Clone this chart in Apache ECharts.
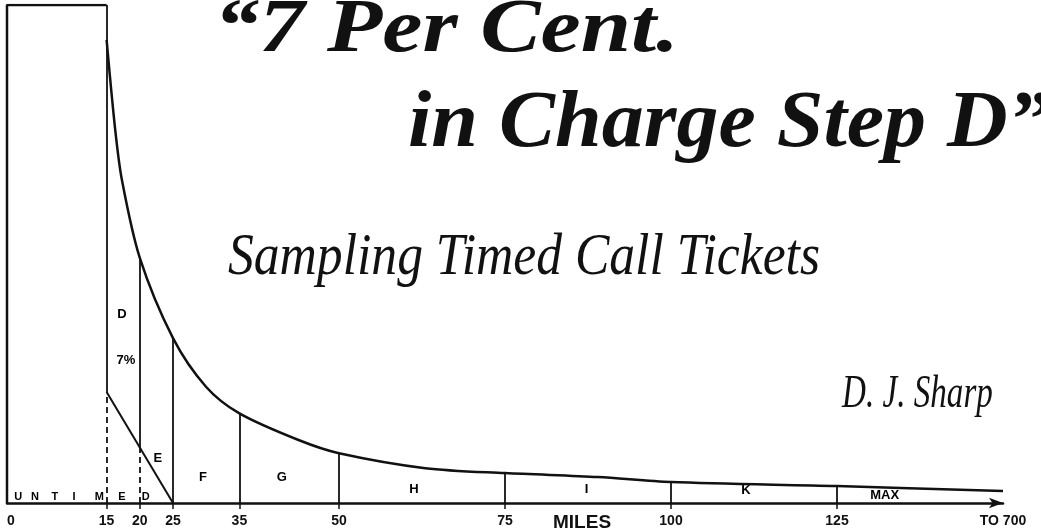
<!DOCTYPE html>
<html>
<head>
<meta charset="utf-8">
<script src="https://cdn.jsdelivr.net/npm/echarts@6/dist/echarts.min.js"></script>
<style>
  html, body { margin: 0; padding: 0; background: #fff; }
  #chart { width: 1041px; height: 531px; }
</style>
</head>
<body>
<div id="chart"></div>
<script>
// Decay curve of timed calls by mileage (height relative to the untimed bar = 100)
const curveMiles  = [15, 16.3, 17.3, 20, 25, 30, 35, 44, 50, 63, 75, 89, 100, 125, 700];
const curveHeight = [93, 74.9, 64.9, 49.2, 33.1, 23.3, 18.0, 12.6, 10, 7, 6, 5.2, 4.2, 3.4, 2.4];

// Untimed block 0-15 miles
const untimedMiles = [0, 0, 15];
const untimedHeight = [0, 100, 100];

// Charge step boundaries; dividers run from the curve down, dashed below `dashedTo`
const stepMiles = [15, 20, 25, 35, 50, 75, 100, 125];
const stepTop = [100, 49.2, 33.1, 18.0, 10, 6, 4.2, 3.4];
const dashedTo = [22.3, 11.1, 0, 0, 0, 0, 0, 0];

// The 7 per cent sampling line in step D
const sampleMiles = [15, 25];
const sampleHeight = [22.3, 0];

// Axis labels
const tickMiles  = [0, 15, 20, 25, 35, 50, 75, 100, 125, 700];
const tickLabels = ['0', '15', '20', '25', '35', '50', '75', '100', '125', 'TO 700'];

// Letters inside the chart
const stepLetters = ['D', '7%', 'E', 'F', 'G', 'H', 'I', 'K', 'MAX'];
const stepLetterMiles = [17.3, 17.9, 22.7, 29.5, 41.4, 61.3, 87.3, 111.3, 290];
const stepLetterHeight = [37.8, 28.7, 9.0, 5.2, 5.2, 2.8, 2.8, 2.6, 1.6];

const untimedLetters = ['U', 'N', 'T', 'I', 'M', 'E', 'D'];
const untimedLetterMiles = [1.7, 4.2, 7.2, 10.1, 13.9, 17.3, 20.9];
const untimedLetterHeight = 1.3;

// axis is linear to 125 miles, the 125-700 tail is squeezed into the last stretch
const LINEAR_TO = 125, TAIL_SPAN = 25, TAIL_END = 700;
function milePos(m) {
  if (m <= LINEAR_TO) return m;
  return LINEAR_TO + (m - LINEAR_TO) * TAIL_SPAN / (TAIL_END - LINEAR_TO);
}

const INK = '#111';
const sans = '"Liberation Sans", Arial, sans-serif';
const serif = '"Liberation Serif", "Times New Roman", serif';

const chart = echarts.init(document.getElementById('chart'), null, { renderer: 'canvas' });

const dividerLines = [];
stepMiles.forEach((m, i) => {
  const x = milePos(m);
  dividerLines.push([{ coord: [x, dashedTo[i]] }, { coord: [x, stepTop[i]] }]);
  if (dashedTo[i] > 0) {
    dividerLines.push([
      { coord: [x, 0], lineStyle: { type: [6, 4], width: 1.8 } },
      { coord: [x, dashedTo[i]] }
    ]);
  }
});

const tickPos = tickMiles.map(milePos);
const labelFor = {};
tickMiles.forEach((m, i) => { labelFor[milePos(m)] = tickLabels[i]; });

const letterLabel = (size) => ({
  show: true,
  position: 'inside',
  formatter: '{b}',
  color: '#000',
  opacity: 1,
  textBorderWidth: 0,
  fontFamily: sans,
  fontWeight: 'bold',
  fontSize: size
});

chart.setOption({
  backgroundColor: '#fff',
  animation: false,
  grid: { left: 7, right: 38, top: 5, bottom: 28 },
  xAxis: {
    type: 'value',
    min: 0,
    max: milePos(TAIL_END),
    axisLine: {
      show: true,
      symbol: ['none', 'arrow'],
      symbolSize: [8, 14],
      lineStyle: { color: INK, width: 2.5 }
    },
    axisTick: {
      show: true,
      customValues: stepMiles.map(milePos),
      length: 6,
      lineStyle: { color: INK, width: 1.5 }
    },
    axisLabel: {
      customValues: tickPos,
      formatter: (v) => labelFor[v] || '',
      color: INK,
      fontFamily: sans,
      fontWeight: 'bold',
      fontSize: 14,
      margin: 11,
      alignMinLabel: 'left'
    },
    splitLine: { show: false }
  },
  yAxis: {
    type: 'value',
    min: 0,
    max: 100,
    show: false
  },
  graphic: [
    { type: 'text', x: 214, y: -7, scaleX: 1.19,
      style: { text: '\u201C7 Per Cent.', font: 'italic bold 76px ' + serif, fill: INK } },
    { type: 'text', x: 408, y: 85, scaleX: 1.05,
      style: { text: 'in Charge Step D\u201D', font: 'italic bold 80px ' + serif, fill: INK } },
    { type: 'text', x: 228, y: 228, scaleX: 0.86,
      style: { text: 'Sampling Timed Call Tickets', font: 'italic 60px ' + serif, fill: INK } },
    { type: 'text', x: 842, y: 372, scaleX: 0.72,
      style: { text: 'D. J. Sharp', font: 'italic 46px ' + serif, fill: INK } },
    { type: 'text', x: 553, y: 513,
      style: { text: 'MILES', font: 'bold 19px ' + sans, fill: INK } }
  ],
  series: [
    {
      name: 'calls',
      type: 'line',
      data: curveMiles.map((m, i) => [milePos(m), curveHeight[i]]),
      smooth: 0.3,
      symbol: 'none',
      lineStyle: { color: INK, width: 2.5 },
      z: 5
    },
    {
      name: 'untimed',
      type: 'line',
      data: untimedMiles.map((m, i) => [milePos(m), untimedHeight[i]]),
      symbol: 'none',
      lineStyle: { color: INK, width: 2.5 },
      markLine: {
        silent: true,
        symbol: ['none', 'none'],
        label: { show: false },
        lineStyle: { color: INK, width: 1.8, type: 'solid' },
        data: dividerLines
      }
    },
    {
      name: 'sample',
      type: 'line',
      data: sampleMiles.map((m, i) => [milePos(m), sampleHeight[i]]),
      symbol: 'none',
      lineStyle: { color: INK, width: 2 }
    },
    {
      name: 'step letters',
      type: 'scatter',
      symbolSize: 0,
      itemStyle: { color: '#000', opacity: 1 },
      data: stepLetters.map((t, i) => ({ name: t, value: [milePos(stepLetterMiles[i]), stepLetterHeight[i]] })),
      label: letterLabel(13)
    },
    {
      name: 'untimed letters',
      type: 'scatter',
      symbolSize: 0,
      itemStyle: { color: '#000', opacity: 1 },
      data: untimedLetters.map((t, i) => ({ name: t, value: [milePos(untimedLetterMiles[i]), untimedLetterHeight] })),
      label: letterLabel(11)
    }
  ]
});
</script>
</body>
</html>
